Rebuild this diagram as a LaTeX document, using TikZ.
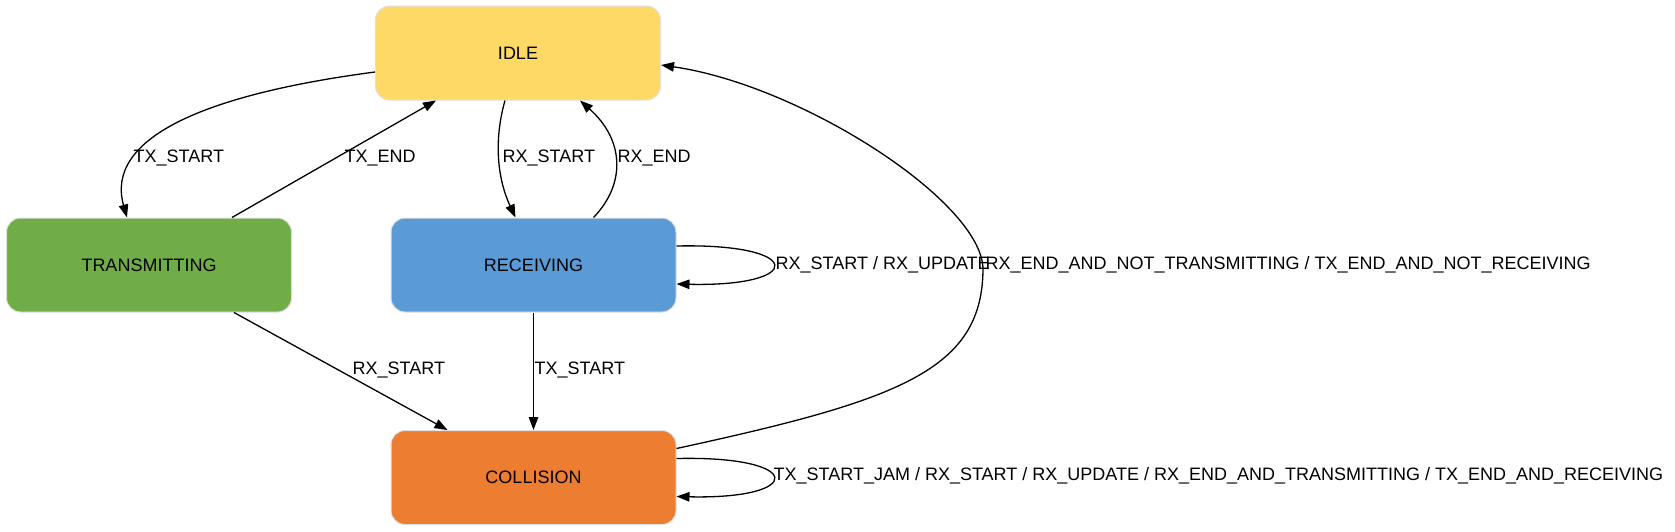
\documentclass[tikz,border=0pt]{standalone}
\usepackage{fontspec}
\setmainfont{Liberation Sans}
\usetikzlibrary{arrows.meta}
\usetikzlibrary{calc}
\definecolor{idlecol}{HTML}{FFD966}
\definecolor{txcol}{HTML}{70AD47}
\definecolor{rxcol}{HTML}{5B9BD5}
\definecolor{colcol}{HTML}{ED7D31}
\tikzstyle{state}=[rectangle,rounded corners=14pt,draw=black!12,line width=1pt,minimum width=285pt,minimum height=94pt,inner sep=0pt,font=\fontsize{18}{22}\selectfont]
\tikzstyle{trans} = [draw,line width=1.3pt,-{Triangle[length=13pt,width=9.5pt]}]
\tikzstyle{lbl} = [font=\fontsize{18}{22}\selectfont,inner sep=0pt,anchor=west]

\begin{document}
\begin{tikzpicture}[x=1pt,y=-1pt]
  \useasboundingbox (0,0) rectangle (1675,531);

  \foreach \x/\y/\name/\label/\col in {518/53/idle/IDLE/idlecol, 149/265/transmitting/TRANSMITTING/txcol,
                                        533.5/265/receiving/RECEIVING/rxcol, 533.5/477.5/collision/COLLISION/colcol}
          \node[state, fill=\col] (\name) at (\x, \y) {\label};

  % idle <-> transmitting
  \draw[trans] ($(idle.west)+(0,19)$) .. controls +(-175,23) and +(-22,-78) .. ($(transmitting.north)+(-22,0)$)
        node[lbl] at (133,158) {TX\_START};
  \draw[trans] ($(transmitting.north)+(83,0)$) -- ($(idle.south)+(-82,0)$)
        node[lbl] at (344,158) {TX\_END};

  % idle <-> receiving
  \draw[trans] ($(idle.south)+(-13,0)$) .. controls +(-10,35) and +(-20,-43) .. ($(receiving.north)+(-18,0)$)
        node[lbl] at (502,158) {RX\_START};
  \draw[trans] ($(receiving.north)+(60,0)$) .. controls +(32,-33) and +(45,40) .. ($(idle.south)+(62,0)$)
        node[lbl] at (617,158) {RX\_END};

  % self loops
  \draw[trans] ($(receiving.east)+(0,-19)$) .. controls +(129,-3) and +(129,3) .. ($(receiving.east)+(0,19)$)
        node[lbl] at (775,265) {RX\_START / RX\_UPDATE};
  \draw[trans] ($(collision.east)+(0,-19)$) .. controls +(129,-3) and +(129,3) .. ($(collision.east)+(0,19)$)
        node[lbl] at (773,476) {TX\_START\_JAM / RX\_START / RX\_UPDATE / RX\_END\_AND\_TRANSMITTING / TX\_END\_AND\_RECEIVING};

  % collision back to idle
  \draw[trans] ($(collision.east)+(0,-29)$) .. controls (900,400) and (983,370) .. (983,268)
        .. controls (980,200) and (800,85) .. ($(idle.east)+(0,12)$)
        node[lbl] at (985,265) {RX\_END\_AND\_NOT\_TRANSMITTING / TX\_END\_AND\_NOT\_RECEIVING};

  % into collision
  \draw[trans] ($(transmitting.south)+(85,0)$) -- ($(collision.north)+(-86,0)$)
        node[lbl] at (352,370) {RX\_START};
  \draw[trans] (receiving) -- (collision)
        node[lbl] at (534,370) {TX\_START};

\end{tikzpicture}
\end{document}
